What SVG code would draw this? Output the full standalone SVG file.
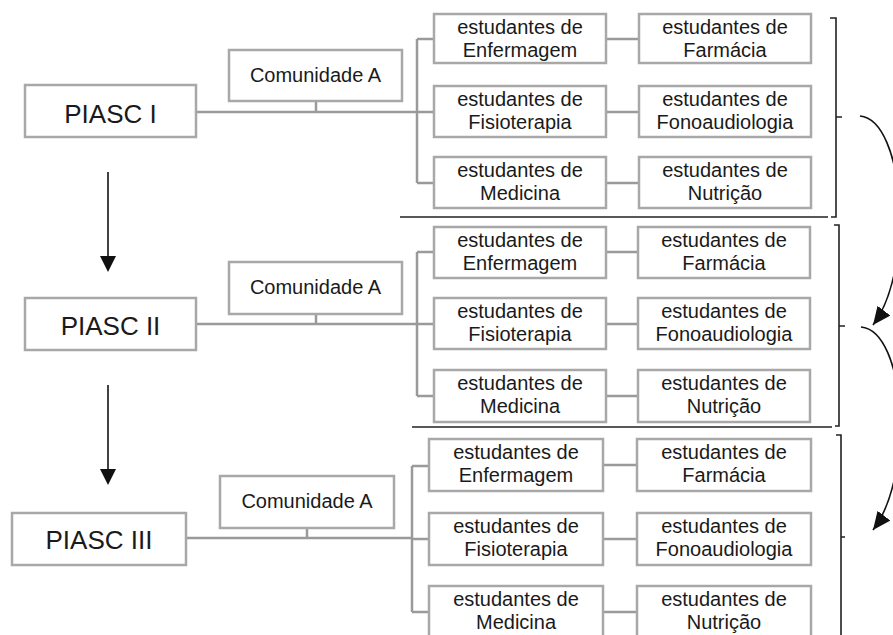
<svg xmlns="http://www.w3.org/2000/svg" width="893" height="635" viewBox="0 0 893 635">
<style>
.box{fill:#fff;stroke:#a8a8a8;stroke-width:2.5}
.con{fill:none;stroke:#9a9a9a;stroke-width:2.5}
.blk{fill:none;stroke:#222;stroke-width:1.6}
.arr{fill:none;stroke:#111;stroke-width:1.6}
text{font-family:"Liberation Sans",Arial,sans-serif;fill:#1a1a1a;text-anchor:middle}
.big{font-size:26px}
.med{font-size:20px}
</style>
<defs>
<marker id="ah" markerUnits="userSpaceOnUse" markerWidth="20" markerHeight="18" refX="18" refY="8" orient="auto">
<path d="M0,0 L18,8 L0,16 Z" fill="#111"/>
</marker>
</defs>

<g id="connectors">
<!-- section 1 -->
<path class="con" d="M196 112 H417 M316 101 V112 M417 39 V183 M417 39 H434 M417 112 H434 M417 183 H434 M606 39 H639 M606 112 H639 M606 183 H639"/>
<!-- section 2 -->
<path class="con" d="M196 324 H417 M316 314 V324 M417 252 V396 M417 252 H434 M417 324 H434 M417 396 H434 M606 252 H638 M606 324 H638 M606 396 H638"/>
<!-- section 3 -->
<path class="con" d="M186 538 H412 M307 528 V538 M412 466 V612 M412 466 H429 M412 539 H429 M412 612 H429 M603 465 H637 M603 539 H637 M603 612 H637"/>
<!-- vertical arrows -->
<line class="arr" x1="108" y1="172" x2="108" y2="258"/>
<path d="M100,256 L116,256 L108,272 Z" fill="#111"/>
<line class="arr" x1="108" y1="385" x2="108" y2="471"/>
<path d="M100,469 L116,469 L108,485 Z" fill="#111"/>
<!-- separators and brackets -->
<path class="blk" d="M400 217 H828 M831 217 H836 V18 H830 M836 117 H842"/>
<path class="blk" d="M412 427 H832 M835 426 H839 V225 H834 M839 326 H845"/>
<path class="blk" d="M836 435 H841 V635 M841 537 H845"/>
<!-- curved arrows -->
<path class="arr" d="M860 116 C905 120 915 270 873 325" marker-end="url(#ah)"/>
<path class="arr" d="M861 327 C906 331 915 475 873 530" marker-end="url(#ah)"/>
</g>

<g id="piasc1"><rect class="box" x="25" y="85" width="171" height="52"/><text class="big" x="110.5" y="123">PIASC I</text></g>
<g id="comA1"><rect class="box" x="229" y="50" width="173" height="51"/><text class="med" x="315.5" y="82">Comunidade A</text></g>
<g id="s1enf"><rect class="box" x="434" y="14" width="172" height="49"/><text class="med" x="520" y="34">estudantes de</text><text class="med" x="520" y="57">Enfermagem</text></g>
<g id="s1far"><rect class="box" x="639" y="14" width="172" height="49"/><text class="med" x="725" y="34">estudantes de</text><text class="med" x="725" y="57">Farmácia</text></g>
<g id="s1fis"><rect class="box" x="434" y="86" width="172" height="51"/><text class="med" x="520" y="106">estudantes de</text><text class="med" x="520" y="129">Fisioterapia</text></g>
<g id="s1fon"><rect class="box" x="639" y="86" width="172" height="51"/><text class="med" x="725" y="106">estudantes de</text><text class="med" x="725" y="129">Fonoaudiologia</text></g>
<g id="s1med"><rect class="box" x="434" y="157" width="172" height="51"/><text class="med" x="520" y="177">estudantes de</text><text class="med" x="520" y="200">Medicina</text></g>
<g id="s1nut"><rect class="box" x="639" y="157" width="172" height="51"/><text class="med" x="725" y="177">estudantes de</text><text class="med" x="725" y="200">Nutrição</text></g>

<g id="piasc2"><rect class="box" x="25" y="298" width="171" height="52"/><text class="big" x="110.5" y="335">PIASC II</text></g>
<g id="comA2"><rect class="box" x="229" y="262" width="173" height="52"/><text class="med" x="315.5" y="294">Comunidade A</text></g>
<g id="s2enf"><rect class="box" x="434" y="227" width="172" height="51"/><text class="med" x="520" y="247">estudantes de</text><text class="med" x="520" y="270">Enfermagem</text></g>
<g id="s2far"><rect class="box" x="638" y="227" width="172" height="51"/><text class="med" x="724" y="247">estudantes de</text><text class="med" x="724" y="270">Farmácia</text></g>
<g id="s2fis"><rect class="box" x="434" y="298" width="172" height="51"/><text class="med" x="520" y="318">estudantes de</text><text class="med" x="520" y="341">Fisioterapia</text></g>
<g id="s2fon"><rect class="box" x="638" y="298" width="172" height="51"/><text class="med" x="724" y="318">estudantes de</text><text class="med" x="724" y="341">Fonoaudiologia</text></g>
<g id="s2med"><rect class="box" x="434" y="370" width="172" height="52"/><text class="med" x="520" y="390">estudantes de</text><text class="med" x="520" y="413">Medicina</text></g>
<g id="s2nut"><rect class="box" x="638" y="370" width="172" height="52"/><text class="med" x="724" y="390">estudantes de</text><text class="med" x="724" y="413">Nutrição</text></g>

<g id="piasc3"><rect class="box" x="12" y="513" width="174" height="52"/><text class="big" x="99" y="549">PIASC III</text></g>
<g id="comA3"><rect class="box" x="220" y="476" width="174" height="52"/><text class="med" x="307" y="508">Comunidade A</text></g>
<g id="s3enf"><rect class="box" x="429" y="439" width="174" height="52"/><text class="med" x="516" y="459">estudantes de</text><text class="med" x="516" y="482">Enfermagem</text></g>
<g id="s3far"><rect class="box" x="637" y="439" width="174" height="52"/><text class="med" x="724" y="459">estudantes de</text><text class="med" x="724" y="482">Farmácia</text></g>
<g id="s3fis"><rect class="box" x="429" y="513" width="174" height="52"/><text class="med" x="516" y="533">estudantes de</text><text class="med" x="516" y="556">Fisioterapia</text></g>
<g id="s3fon"><rect class="box" x="637" y="513" width="174" height="52"/><text class="med" x="724" y="533">estudantes de</text><text class="med" x="724" y="556">Fonoaudiologia</text></g>
<g id="s3med"><rect class="box" x="429" y="586" width="174" height="52"/><text class="med" x="516" y="606">estudantes de</text><text class="med" x="516" y="629">Medicina</text></g>
<g id="s3nut"><rect class="box" x="637" y="586" width="174" height="52"/><text class="med" x="724" y="606">estudantes de</text><text class="med" x="724" y="629">Nutrição</text></g>
</svg>
